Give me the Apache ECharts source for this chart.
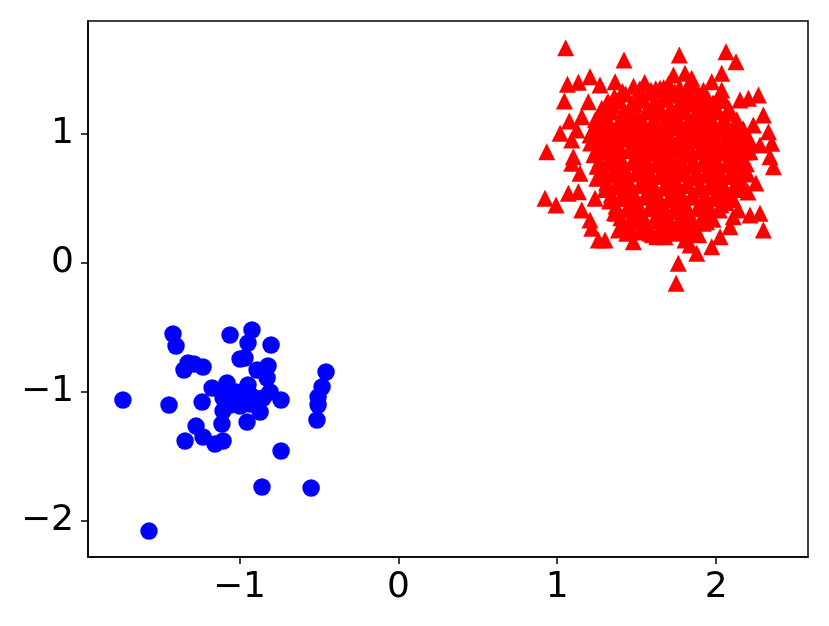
<!DOCTYPE html>
<html>
<head>
<meta charset="utf-8">
<script src="https://cdn.jsdelivr.net/npm/echarts@6/dist/echarts.min.js"></script>
<style>html,body{margin:0;padding:0;background:#fff}#c{width:829px;height:626px}</style>
</head>
<body>
<div id="c"></div>
<script>
const xTicks = [-1, 0, 1, 2];
const yTicks = [-2, -1, 0, 1];

const blueClass = [
  [-1.418,-0.550],[-1.399,-0.643],[-1.059,-0.558],[-0.921,-0.519],[-0.946,-0.620],[-0.801,-0.636],
  [-0.996,-0.744],[-0.965,-0.736],[-1.323,-0.775],[-1.286,-0.783],[-1.229,-0.806],[-1.349,-0.829],
  [-0.889,-0.829],[-0.820,-0.798],[-0.826,-0.891],[-0.455,-0.845],[-0.480,-0.961],[-0.505,-1.039],
  [-0.505,-1.101],[-0.512,-1.217],[-1.733,-1.062],[-1.443,-1.101],[-1.235,-1.078],[-1.172,-0.969],
  [-1.110,-1.000],[-1.078,-0.930],[-0.946,-0.946],[-1.103,-1.047],[-1.040,-1.047],[-0.996,-1.109],
  [-1.103,-1.147],[-0.914,-1.039],[-0.851,-1.047],[-0.738,-1.062],[-0.870,-1.155],[-0.952,-1.233],
  [-1.110,-1.248],[-1.273,-1.264],[-1.229,-1.349],[-1.342,-1.380],[-1.154,-1.403],[-1.103,-1.380],
  [-0.738,-1.457],[-0.858,-1.736],[-0.549,-1.744],[-1.569,-2.078],[-1.021,-1.000],[-0.972,-1.000],
  [-1.059,-1.101],[-0.933,-1.093],[-0.807,-1.000]
];

const redOuter = [
  [1.053,1.669],[1.420,1.574],[1.064,1.385],[1.133,1.401],[1.206,1.444],[1.269,1.380],[1.364,1.405],
  [1.045,1.256],[1.196,1.250],[1.312,1.238],[1.076,1.101],[1.154,1.134],[1.018,1.005],[1.123,1.031],
  [1.091,0.953],[0.934,0.863],[1.101,0.824],[1.206,0.992],
  [1.768,1.612],[2.062,1.638],[2.125,1.560],[2.035,1.471],[1.804,1.471],[1.846,1.432],[1.731,1.457],
  [1.972,1.405],[2.035,1.341],[1.647,1.354],[1.768,1.316],[1.941,1.250],[2.150,1.264],[2.203,1.277],
  [2.266,1.302],[2.077,1.186],[2.297,1.147],[2.234,1.070],[2.329,1.018],[2.350,0.928],[2.276,0.915],
  [2.150,0.992],[2.339,0.824],[2.213,0.863],
  [0.923,0.502],[0.992,0.450],[1.070,0.540],[1.133,0.553],[1.143,0.695],[1.091,0.773],[1.249,0.657],
  [1.238,0.502],[1.154,0.411],[1.206,0.333],[1.217,0.269],[1.259,0.178],[1.301,0.178],[1.374,0.385],
  [1.385,0.256],[1.479,0.165],[1.437,0.230],[1.584,0.230],[1.542,0.347],
  [2.360,0.747],[2.213,0.372],[2.276,0.385],[2.297,0.256],[1.762,-0.002],[1.748,-0.157],[1.878,0.075],
  [1.836,0.140],[1.972,0.126],[2.025,0.204],[2.087,0.281],[1.626,0.204],[1.678,0.204],[1.804,0.178],
  [1.919,0.308],[2.140,0.411],[2.108,0.359],[2.25,0.62],[2.20,0.55]
];

const redInner = [
  [1.48,1.37],[1.55,1.40],[1.62,1.35],[1.70,1.39],[1.77,1.36],[1.85,1.38],
  [1.36,1.29],[1.43,1.31],[1.51,1.28],[1.58,1.32],[1.66,1.27],[1.73,1.30],[1.81,1.28],[1.89,1.31],[1.95,1.27],[2.02,1.30],
  [1.28,1.20],[1.35,1.22],[1.42,1.19],[1.49,1.23],[1.57,1.20],[1.64,1.22],[1.71,1.19],[1.79,1.21],[1.86,1.23],[1.93,1.19],[2.00,1.21],[2.08,1.20],
  [1.24,1.11],[1.31,1.13],[1.39,1.10],[1.46,1.14],[1.53,1.11],[1.61,1.12],[1.68,1.10],[1.75,1.14],[1.83,1.11],[1.90,1.13],[1.97,1.10],[2.05,1.12],[2.13,1.11],
  [1.22,1.02],[1.29,1.04],[1.36,1.01],[1.44,1.05],[1.51,1.02],[1.58,1.03],[1.66,1.01],[1.73,1.05],[1.80,1.02],[1.88,1.04],[1.95,1.01],[2.02,1.03],[2.10,1.02],[2.17,1.04],
  [1.21,0.93],[1.28,0.95],[1.36,0.92],[1.43,0.96],[1.50,0.93],[1.58,0.94],[1.65,0.92],[1.72,0.96],[1.80,0.93],[1.87,0.95],[1.94,0.92],[2.01,0.94],[2.09,0.93],[2.16,0.95],[2.22,0.92],
  [1.23,0.84],[1.30,0.86],[1.37,0.83],[1.45,0.87],[1.52,0.84],[1.59,0.85],[1.67,0.83],[1.74,0.87],[1.81,0.84],[1.89,0.86],[1.96,0.83],[2.03,0.85],[2.11,0.84],[2.18,0.86],
  [1.25,0.75],[1.32,0.77],[1.40,0.74],[1.47,0.78],[1.54,0.75],[1.62,0.76],[1.69,0.74],[1.76,0.78],[1.84,0.75],[1.91,0.77],[1.98,0.74],[2.06,0.76],[2.13,0.75],[2.19,0.77],
  [1.27,0.66],[1.34,0.68],[1.42,0.65],[1.49,0.69],[1.56,0.66],[1.64,0.67],[1.71,0.65],[1.78,0.69],[1.86,0.66],[1.93,0.68],[2.00,0.65],[2.08,0.67],[2.15,0.66],[2.20,0.69],
  [1.30,0.57],[1.37,0.59],[1.45,0.56],[1.52,0.60],[1.59,0.57],[1.67,0.58],[1.74,0.56],[1.81,0.60],[1.89,0.57],[1.96,0.59],[2.03,0.56],[2.11,0.58],[2.17,0.57],
  [1.33,0.48],[1.40,0.50],[1.48,0.47],[1.55,0.51],[1.62,0.48],[1.70,0.49],[1.77,0.47],[1.84,0.51],[1.92,0.48],[1.99,0.50],[2.06,0.47],[2.11,0.49],
  [1.36,0.39],[1.44,0.41],[1.51,0.38],[1.58,0.42],[1.66,0.39],[1.73,0.40],[1.80,0.38],[1.88,0.42],[1.95,0.39],[2.02,0.41],
  [1.41,0.30],[1.49,0.32],[1.56,0.29],[1.64,0.33],[1.71,0.30],[1.79,0.31],[1.86,0.29],[1.94,0.32],
  [1.52,0.24],[1.60,0.22],[1.68,0.25],[1.75,0.23],[1.83,0.24],[1.89,0.22]
];

const redCore = [
  [1.41,1.33],[1.52,1.35],[1.59,1.34],[1.67,1.36],[1.74,1.33],[1.82,1.35],[1.92,1.34],
  [1.32,1.25],[1.39,1.26],[1.47,1.24],[1.54,1.26],[1.61,1.25],[1.69,1.27],[1.77,1.24],[1.84,1.26],[1.91,1.25],[1.98,1.24],[2.05,1.26],
  [1.27,1.15],[1.34,1.17],[1.42,1.16],[1.50,1.15],[1.57,1.17],[1.64,1.16],[1.72,1.15],[1.79,1.17],[1.87,1.16],[1.94,1.15],[2.01,1.17],[2.09,1.16],
  [1.25,1.07],[1.33,1.08],[1.40,1.06],[1.47,1.08],[1.55,1.07],[1.62,1.06],[1.70,1.08],[1.77,1.07],[1.84,1.06],[1.92,1.08],[1.99,1.07],[2.06,1.06],[2.14,1.08],
  [1.25,0.98],[1.32,0.99],[1.40,0.97],[1.47,0.99],[1.54,0.98],[1.62,0.97],[1.69,0.99],[1.77,0.98],[1.84,0.97],[1.91,0.99],[1.98,0.98],[2.06,0.97],[2.13,0.99],[2.20,0.98],
  [1.25,0.89],[1.32,0.90],[1.40,0.88],[1.47,0.90],[1.55,0.89],[1.62,0.88],[1.70,0.90],[1.77,0.89],[1.84,0.88],[1.92,0.90],[1.99,0.89],[2.07,0.88],[2.14,0.90],[2.20,0.89],
  [1.27,0.80],[1.34,0.81],[1.41,0.79],[1.49,0.81],[1.56,0.80],[1.63,0.79],[1.71,0.81],[1.78,0.80],[1.86,0.79],[1.93,0.81],[2.00,0.80],[2.08,0.79],[2.15,0.81],
  [1.29,0.71],[1.36,0.72],[1.44,0.70],[1.51,0.72],[1.58,0.71],[1.66,0.70],[1.73,0.72],[1.80,0.71],[1.88,0.70],[1.95,0.72],[2.02,0.71],[2.10,0.70],[2.17,0.72],
  [1.31,0.62],[1.38,0.63],[1.46,0.61],[1.53,0.63],[1.60,0.62],[1.68,0.61],[1.75,0.63],[1.82,0.62],[1.90,0.61],[1.97,0.63],[2.04,0.62],[2.12,0.61],
  [1.34,0.53],[1.41,0.54],[1.49,0.52],[1.56,0.54],[1.63,0.53],[1.71,0.52],[1.78,0.54],[1.85,0.53],[1.93,0.52],[2.00,0.54],[2.07,0.53],
  [1.37,0.44],[1.45,0.45],[1.52,0.43],[1.59,0.45],[1.67,0.44],[1.74,0.43],[1.81,0.45],[1.89,0.44],[1.96,0.43],[2.03,0.45],
  [1.40,0.35],[1.47,0.36],[1.55,0.34],[1.62,0.36],[1.70,0.35],[1.77,0.34],[1.84,0.36],[1.91,0.35],[1.98,0.34],
  [1.46,0.27],[1.56,0.28],[1.64,0.26],[1.72,0.28],[1.80,0.27],[1.87,0.26]
];

const redClass = redOuter.concat(redInner, redCore);

const fmt = v => (v < 0 ? '\u2212' + Math.abs(v) : String(v));
const labelStyle = { color: '#000', fontFamily: 'DejaVu Sans', fontSize: 36 };

const chart = echarts.init(document.getElementById('c'), null, { renderer: 'canvas' });
chart.setOption({
  animation: false,
  backgroundColor: '#fff',
  grid: { left: 88, right: 21, top: 21, bottom: 69, containLabel: false, show: true, borderColor: '#000', borderWidth: 1.5, backgroundColor: 'transparent' },
  xAxis: {
    type: 'value', min: -1.953, max: 2.578,
    splitLine: { show: false },
    axisLine: { show: true, onZero: false, lineStyle: { color: '#000', width: 1.5 } },
    axisTick: { show: true, length: 7, inside: false, lineStyle: { color: '#000', width: 1.5 }, customValues: xTicks },
    axisLabel: Object.assign({ margin: 13, formatter: fmt, customValues: xTicks }, labelStyle)
  },
  yAxis: {
    type: 'value', min: -2.279, max: 1.876,
    splitLine: { show: false },
    axisLine: { show: true, onZero: false, lineStyle: { color: '#000', width: 1.5 } },
    axisTick: { show: true, length: 7, inside: false, lineStyle: { color: '#000', width: 1.5 }, customValues: yTicks },
    axisLabel: Object.assign({ margin: 14, formatter: fmt, customValues: yTicks }, labelStyle)
  },
  series: [
    { type: 'scatter', data: blueClass, symbol: 'circle', symbolSize: 17.5, itemStyle: { color: '#0000ff', opacity: 1 } },
    { type: 'scatter', data: redClass, symbol: 'triangle', symbolSize: 17, itemStyle: { color: '#ff0000', opacity: 1 } }
  ]
});
</script>
</body>
</html>
